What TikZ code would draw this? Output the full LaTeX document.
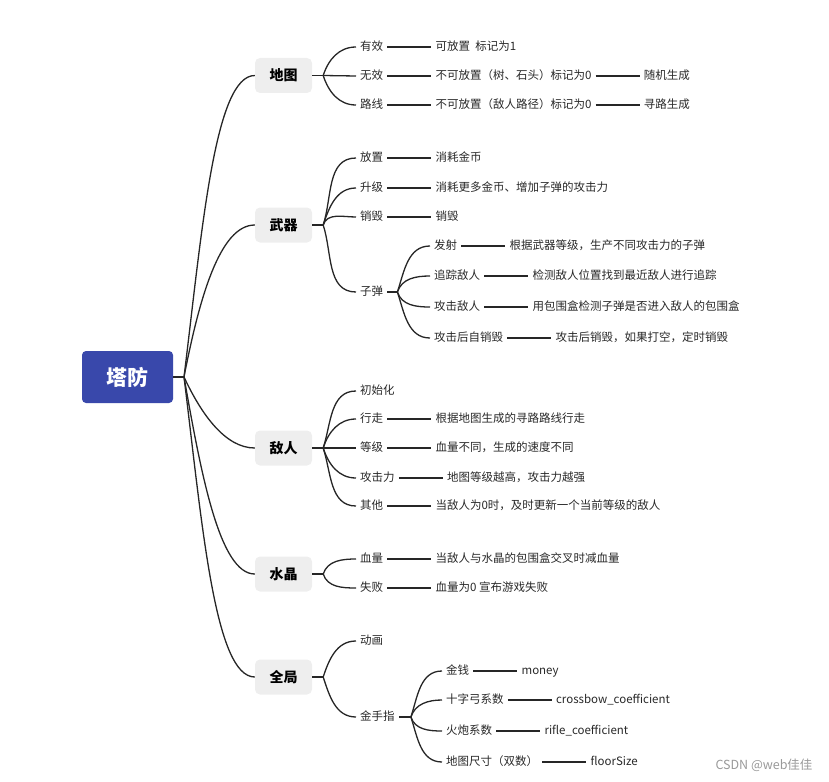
\documentclass[tikz,border=0pt]{standalone}
\usepackage{fontspec}
\setmainfont{Noto Sans CJK SC}
\usetikzlibrary{positioning}
\definecolor{rootblue}{RGB}{57,72,171}
\definecolor{boxgrey}{RGB}{238,238,238}
\definecolor{inkgrey}{RGB}{40,40,40}

\begin{document}
\begin{tikzpicture}[
x=1pt, y=-1pt,
node distance=44pt,
root/.style={rectangle, fill=rootblue, rounded corners=4pt, minimum width=91pt, minimum height=52pt, text=white, font=\fontsize{21}{24}\selectfont\bfseries},
topic/.style={rectangle, fill=boxgrey, rounded corners=5pt, minimum width=57pt, minimum height=35pt, font=\fontsize{14}{17}\selectfont\bfseries},
item/.style={inner xsep=4pt, inner ysep=2pt, text height=9pt, text depth=1.5pt, text=inkgrey, font=\fontsize{11.5}{14}\selectfont},
link/.style={line width=1.3pt, draw=black!85},
rise/.style={out=72, in=180},
fall/.style={out=-72, in=180}
]
\useasboundingbox (0,0) rectangle (829,781);

% root and main topics
\node[root] (tower) at (127.5,377) {塔防};
\coordinate (hub) at (184,377);

\node[topic] (map) at (283.5,75.5) {地图};
\node[topic] (weapon) at (283.5,225) {武器};
\node[topic] (enemy) at (283.5,448) {敌人};
\node[topic] (crystal) at (283.5,574) {水晶};
\node[topic] (global) at (283.5,677) {全局};

\draw[link] (tower.east) -- (hub);
\draw[link] (hub) to[out=83, in=180, out distance=150pt, in distance=40pt] (map.west);
\draw[link] (hub) to[out=79, in=180, out distance=80pt, in distance=35pt] (weapon.west);
\draw[link] (hub) to[out=-65, in=180, out distance=40pt, in distance=30pt] (enemy.west);
\draw[link] (hub) to[out=-80, in=180, out distance=100pt, in distance=35pt] (crystal.west);
\draw[link] (hub) to[out=-83, in=180, out distance=150pt, in distance=40pt] (global.west);

% map
\node[item, anchor=west] (valid) at (356,47) {有效};
\node[item, anchor=west] (invalid) at (356,76) {无效};
\node[item, anchor=west] (path) at (356,105) {路线};
\node[item, right=of valid] (validtag) {可放置~~标记为1};
\node[item, right=of invalid] (invalidtag) {不可放置（树、石头）标记为0};
\node[item, right=of invalidtag] (random) {随机生成};
\node[item, right=of path] (pathtag) {不可放置（敌人路径）标记为0};
\node[item, right=of pathtag] (seek) {寻路生成};

\draw[link] (map.east) -- ++(11,0) coordinate (maphub);
\draw[link] (maphub) to[rise] (valid.west);
\draw[link] (maphub) -- (invalid.west);
\draw[link] (maphub) to[fall] (path.west);
\draw[link] (valid.east) -- (validtag.west);
\draw[link] (invalid.east) -- (invalidtag.west);
\draw[link] (invalidtag.east) -- (random.west);
\draw[link] (path.east) -- (pathtag.west);
\draw[link] (pathtag.east) -- (seek.west);

% weapon
\node[item, anchor=west] (place) at (356,158) {放置};
\node[item, anchor=west] (upgrade) at (356,188) {升级};
\node[item, anchor=west] (destroy) at (356,217) {销毁};
\node[item, anchor=west] (bullet) at (356,292) {子弹};
\node[item, right=of place] (cost) {消耗金币};
\node[item, right=of upgrade] (morecost) {消耗更多金币、增加子弹的攻击力};
\node[item, right=of destroy] (destroytag) {销毁};

\node[item, anchor=west] (fire) at (430,246) {发射};
\node[item, anchor=west] (track) at (430,276) {追踪敌人};
\node[item, anchor=west] (hit) at (430,307) {攻击敌人};
\node[item, anchor=west] (selfdestroy) at (430,338) {攻击后自销毁};
\node[item, right=of fire] (firetag) {根据武器等级，生产不同攻击力的子弹};
\node[item, right=of track] (tracktag) {检测敌人位置找到最近敌人进行追踪};
\node[item, right=of hit] (hittag) {用包围盒检测子弹是否进入敌人的包围盒};
\node[item, right=of selfdestroy] (selftag) {攻击后销毁，如果打空，定时销毁};

\draw[link] (weapon.east) -- ++(11,0) coordinate (weaponhub);
\draw[link] (weaponhub) to[rise] (place.west);
\draw[link] (weaponhub) to[rise] (upgrade.west);
\draw[link] (weaponhub) to[rise] (destroy.west);
\draw[link] (weaponhub) to[fall] (bullet.west);
\draw[link] (place.east) -- (cost.west);
\draw[link] (upgrade.east) -- (morecost.west);
\draw[link] (destroy.east) -- (destroytag.west);

\draw[link] (bullet.east) -- ++(10,0) coordinate (bullethub);
\draw[link] (bullethub) to[rise] (fire.west);
\draw[link] (bullethub) to[rise] (track.west);
\draw[link] (bullethub) to[fall] (hit.west);
\draw[link] (bullethub) to[fall] (selfdestroy.west);
\draw[link] (fire.east) -- (firetag.west);
\draw[link] (track.east) -- (tracktag.west);
\draw[link] (hit.east) -- (hittag.west);
\draw[link] (selfdestroy.east) -- (selftag.west);

% enemy
\node[item, anchor=west] (init) at (356,391) {初始化};
\node[item, anchor=west] (walk) at (356,419) {行走};
\node[item, anchor=west] (level) at (356,448) {等级};
\node[item, anchor=west] (attack) at (356,478) {攻击力};
\node[item, anchor=west] (other) at (356,506) {其他};
\node[item, right=of walk] (walktag) {根据地图生成的寻路路线行走};
\node[item, right=of level] (leveltag) {血量不同，生成的速度不同};
\node[item, right=of attack] (attacktag) {地图等级越高，攻击力越强};
\node[item, right=of other] (othertag) {当敌人为0时，及时更新一个当前等级的敌人};

\draw[link] (enemy.east) -- ++(11,0) coordinate (enemyhub);
\draw[link] (enemyhub) to[rise] (init.west);
\draw[link] (enemyhub) to[rise] (walk.west);
\draw[link] (enemyhub) -- (level.west);
\draw[link] (enemyhub) to[fall] (attack.west);
\draw[link] (enemyhub) to[fall] (other.west);
\draw[link] (walk.east) -- (walktag.west);
\draw[link] (level.east) -- (leveltag.west);
\draw[link] (attack.east) -- (attacktag.west);
\draw[link] (other.east) -- (othertag.west);

% crystal
\node[item, anchor=west] (health) at (356,559) {血量};
\node[item, anchor=west] (fail) at (356,588) {失败};
\node[item, right=of health] (healthtag) {当敌人与水晶的包围盒交叉时减血量};
\node[item, right=of fail] (failtag) {血量为0 宣布游戏失败};

\draw[link] (crystal.east) -- ++(11,0) coordinate (crystalhub);
\draw[link] (crystalhub) to[rise] (health.west);
\draw[link] (crystalhub) to[fall] (fail.west);
\draw[link] (health.east) -- (healthtag.west);
\draw[link] (fail.east) -- (failtag.west);

% global
\node[item, anchor=west] (anim) at (356,641) {动画};
\node[item, anchor=west] (cheat) at (356,717) {金手指};
\node[item, anchor=west] (money) at (442,671) {金钱};
\node[item, anchor=west] (crossbow) at (442,700) {十字弓系数};
\node[item, anchor=west] (rifle) at (442,731) {火炮系数};
\node[item, anchor=west] (floor) at (442,762) {地图尺寸（双数）};
\node[item, right=of money] (moneytag) {money};
\node[item, right=of crossbow] (crossbowtag) {crossbow\_coefficient};
\node[item, right=of rifle] (rifletag) {rifle\_coefficient};
\node[item, right=of floor] (floortag) {floorSize};

\draw[link] (global.east) -- ++(11,0) coordinate (globalhub);
\draw[link] (globalhub) to[rise] (anim.west);
\draw[link] (globalhub) to[fall] (cheat.west);

\draw[link] (cheat.east) -- ++(12,0) coordinate (cheathub);
\draw[link] (cheathub) to[rise] (money.west);
\draw[link] (cheathub) to[rise] (crossbow.west);
\draw[link] (cheathub) to[fall] (rifle.west);
\draw[link] (cheathub) to[fall] (floor.west);
\draw[link] (money.east) -- (moneytag.west);
\draw[link] (crossbow.east) -- (crossbowtag.west);
\draw[link] (rifle.east) -- (rifletag.west);
\draw[link] (floor.east) -- (floortag.west);

\node[anchor=east, text=black!40, font=\fontsize{12.5}{14}\selectfont] (mark) at (816,765) {CSDN @web佳佳};

\end{tikzpicture}
\end{document}
